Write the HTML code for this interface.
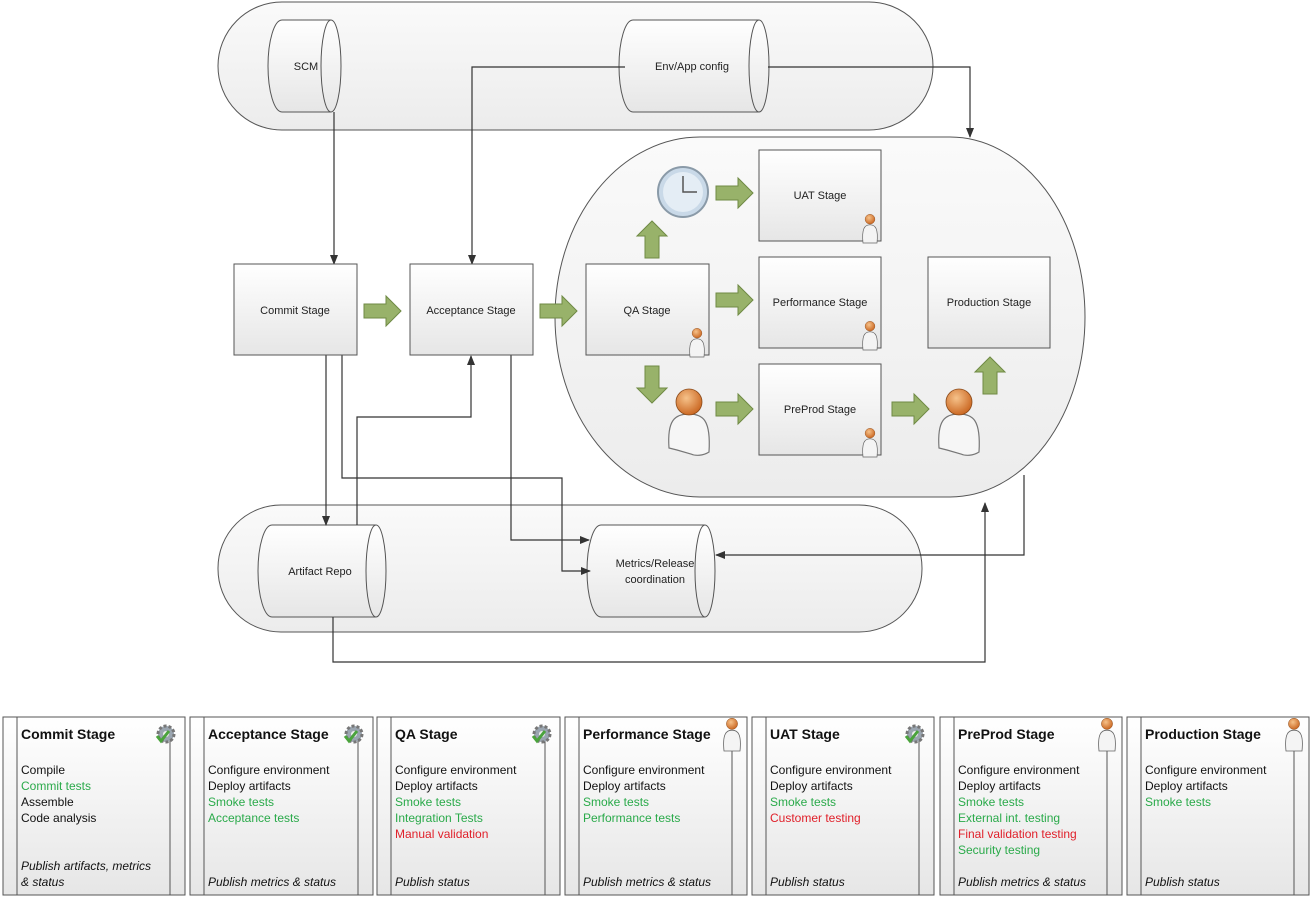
<!DOCTYPE html>
<html><head><meta charset="utf-8"><style>
html,body{margin:0;padding:0;background:#fff}
svg{display:block}
text{font-family:"Liberation Sans",sans-serif}
</style></head><body>
<svg width="1315" height="900" viewBox="0 0 1315 900" xmlns="http://www.w3.org/2000/svg">
<defs>
<linearGradient id="bg" x1="0" y1="0" x2="0" y2="1"><stop offset="0" stop-color="#ffffff"/><stop offset="1" stop-color="#e6e6e6"/></linearGradient>
<linearGradient id="pg" x1="0" y1="0" x2="0" y2="1"><stop offset="0" stop-color="#fafafa"/><stop offset="1" stop-color="#ececec"/></linearGradient>
<radialGradient id="head" cx="0.4" cy="0.35" r="0.7"><stop offset="0" stop-color="#f6c28a"/><stop offset="1" stop-color="#c8621c"/></radialGradient>
<marker id="ar" markerWidth="10" markerHeight="10" refX="9" refY="5" orient="auto" markerUnits="userSpaceOnUse"><path d="M0,1 L10,5 L0,9 z" fill="#333"/></marker>
<polygon id="ga" points="0,-7 22,-7 22,-15 37,0 22,15 22,7 0,7" fill="#98b26a" stroke="#6f8a44" stroke-width="1"/>
<g id="per"><path d="M-10,30 C-12,10 -8,4 0,4 C8,4 12,10 10,30 Z" fill="#f4f4f4" stroke="#666" stroke-width="1"/><circle cx="0" cy="-4" r="7" fill="url(#head)" stroke="#8a4a1a" stroke-width="0.6"/></g>
<g id="bper"><path d="M-20,28 C-22,0 -14,-6 0,-6 C14,-6 22,0 20,32 C14,36 6,36 2,34 L-12,30 Z" fill="#f6f6f6" stroke="#777" stroke-width="1.2"/><circle cx="0" cy="-18" r="13" fill="url(#head)" stroke="#8a4a1a" stroke-width="0.8"/></g>
<g id="gear"><circle cx="0" cy="0" r="8" fill="#9aa5b0" stroke="#777" stroke-width="3" stroke-dasharray="3 2"/><circle cx="0" cy="0" r="3" fill="#eee"/><path d="M-9,2 L-5,7 L3,-3" stroke="#4aa33c" stroke-width="3" fill="none"/></g>
</defs>

<rect x="218" y="2" width="715" height="128" rx="64" fill="url(#pg)" stroke="#555"/>
<rect x="218" y="505" width="704" height="127" rx="63" fill="url(#pg)" stroke="#555"/>
<path d="M700,137 L950,137 A135,180 0 0 1 1085,317 A135,180 0 0 1 950,497 L700,497 A145,180 0 0 1 555,317 A145,180 0 0 1 700,137 Z" fill="url(#pg)" stroke="#555"/>

<g fill="url(#bg)" stroke="#555">
<path d="M282,20 L331,20 A10,46 0 0 1 331,112 L282,112 A14,46 0 0 1 282,20 Z"/><path d="M331,20 A10,46 0 0 0 331,112" fill="none"/>
<path d="M633,20 L759,20 A10,46 0 0 1 759,112 L633,112 A14,46 0 0 1 633,20 Z"/><path d="M759,20 A10,46 0 0 0 759,112" fill="none"/>
<path d="M272,525 L376,525 A10,46 0 0 1 376,617 L272,617 A14,46 0 0 1 272,525 Z"/><path d="M376,525 A10,46 0 0 0 376,617" fill="none"/>
<path d="M601,525 L705,525 A10,46 0 0 1 705,617 L601,617 A14,46 0 0 1 601,525 Z"/><path d="M705,525 A10,46 0 0 0 705,617" fill="none"/>
</g>
<g font-size="11" fill="#222" text-anchor="middle">
<text x="306" y="70">SCM</text><text x="692" y="70">Env/App config</text>
<text x="320" y="575">Artifact Repo</text><text x="655" y="567">Metrics/Release</text><text x="655" y="583">coordination</text>
</g>

<g stroke="#333" stroke-width="1.2" fill="none">
<path d="M334,112 V264" marker-end="url(#ar)"/>
<path d="M625,67 H472 V264" marker-end="url(#ar)"/>
<path d="M768,67 H970 V137" marker-end="url(#ar)"/>
<path d="M326,355 V525" marker-end="url(#ar)"/>
<path d="M342,355 V478 H562 V571 H590" marker-end="url(#ar)"/>
<path d="M357,525 V417 H471 V356" marker-end="url(#ar)"/>
<path d="M511,355 V540 H589" marker-end="url(#ar)"/>
<path d="M1024,475 V555 H716" marker-end="url(#ar)"/>
<path d="M333,617 V662 H985 V503" marker-end="url(#ar)"/>
</g>

<g fill="url(#bg)" stroke="#555">
<rect x="234" y="264" width="123" height="91"/><rect x="410" y="264" width="123" height="91"/>
<rect x="586" y="264" width="123" height="91"/><rect x="759" y="150" width="122" height="91"/>
<rect x="759" y="257" width="122" height="91"/><rect x="759" y="364" width="122" height="91"/>
<rect x="928" y="257" width="122" height="91"/>
</g>
<g font-size="11" fill="#222" text-anchor="middle">
<text x="295" y="314">Commit Stage</text><text x="471" y="314">Acceptance Stage</text>
<text x="647" y="314">QA Stage</text><text x="820" y="199">UAT Stage</text>
<text x="820" y="306">Performance Stage</text><text x="820" y="413">PreProd Stage</text>
<text x="989" y="306">Production Stage</text>
</g>
<use href="#per" transform="translate(697,336) scale(0.7)"/>
<use href="#per" transform="translate(870,222) scale(0.7)"/>
<use href="#per" transform="translate(870,329) scale(0.7)"/>
<use href="#per" transform="translate(870,436) scale(0.7)"/>

<use href="#ga" transform="translate(364,311)"/>
<use href="#ga" transform="translate(540,311)"/>
<use href="#ga" transform="translate(716,300)"/>
<use href="#ga" transform="translate(716,193)"/>
<use href="#ga" transform="translate(716,409)"/>
<use href="#ga" transform="translate(892,409)"/>
<use href="#ga" transform="translate(652,258) rotate(-90)"/>
<use href="#ga" transform="translate(652,366) rotate(90)"/>
<use href="#ga" transform="translate(990,394) rotate(-90)"/>

<circle cx="683" cy="192" r="25" fill="#c9d9e8" stroke="#8a9aa8" stroke-width="2"/>
<circle cx="683" cy="192" r="20" fill="#e4edf5"/>
<path d="M683,176 V192 H697" stroke="#555" stroke-width="1.5" fill="none"/>
<use href="#bper" transform="translate(689,420)"/>
<use href="#bper" transform="translate(959,420)"/>

<g font-size="12" fill="#111">
<g transform="translate(3,717)">
<rect x="0" y="0" width="182" height="178" fill="url(#bg)" stroke="#555"/><path d="M14,0 V178 M167,20 V178" stroke="#555"/>
<text x="18" y="22" font-weight="bold" font-size="14">Commit Stage</text><use href="#gear" transform="translate(163,17)"/>
<text x="18" y="57">Compile</text><text x="18" y="73" fill="#2aaa4a">Commit tests</text><text x="18" y="89">Assemble</text><text x="18" y="105">Code analysis</text>
<text x="18" y="153" font-style="italic">Publish artifacts, metrics</text><text x="18" y="169" font-style="italic">&amp; status</text></g>
<g transform="translate(190,717)">
<rect x="0" y="0" width="183" height="178" fill="url(#bg)" stroke="#555"/><path d="M14,0 V178 M168,20 V178" stroke="#555"/>
<text x="18" y="22" font-weight="bold" font-size="14">Acceptance Stage</text><use href="#gear" transform="translate(164,17)"/>
<text x="18" y="57">Configure environment</text><text x="18" y="73">Deploy artifacts</text><text x="18" y="89" fill="#2aaa4a">Smoke tests</text><text x="18" y="105" fill="#2aaa4a">Acceptance tests</text>
<text x="18" y="169" font-style="italic">Publish metrics &amp; status</text></g>
<g transform="translate(377,717)">
<rect x="0" y="0" width="183" height="178" fill="url(#bg)" stroke="#555"/><path d="M14,0 V178 M168,20 V178" stroke="#555"/>
<text x="18" y="22" font-weight="bold" font-size="14">QA Stage</text><use href="#gear" transform="translate(165,17)"/>
<text x="18" y="57">Configure environment</text><text x="18" y="73">Deploy artifacts</text><text x="18" y="89" fill="#2aaa4a">Smoke tests</text><text x="18" y="105" fill="#2aaa4a">Integration Tests</text><text x="18" y="121" fill="#e0202a">Manual validation</text>
<text x="18" y="169" font-style="italic">Publish status</text></g>
<g transform="translate(565,717)">
<rect x="0" y="0" width="182" height="178" fill="url(#bg)" stroke="#555"/><path d="M14,0 V178 M167,20 V178" stroke="#555"/>
<text x="18" y="22" font-weight="bold" font-size="14">Performance Stage</text><use href="#per" transform="translate(167,10) scale(0.8)"/>
<text x="18" y="57">Configure environment</text><text x="18" y="73">Deploy artifacts</text><text x="18" y="89" fill="#2aaa4a">Smoke tests</text><text x="18" y="105" fill="#2aaa4a">Performance tests</text>
<text x="18" y="169" font-style="italic">Publish metrics &amp; status</text></g>
<g transform="translate(752,717)">
<rect x="0" y="0" width="182" height="178" fill="url(#bg)" stroke="#555"/><path d="M14,0 V178 M167,20 V178" stroke="#555"/>
<text x="18" y="22" font-weight="bold" font-size="14">UAT Stage</text><use href="#gear" transform="translate(163,17)"/>
<text x="18" y="57">Configure environment</text><text x="18" y="73">Deploy artifacts</text><text x="18" y="89" fill="#2aaa4a">Smoke tests</text><text x="18" y="105" fill="#e0202a">Customer testing</text>
<text x="18" y="169" font-style="italic">Publish status</text></g>
<g transform="translate(940,717)">
<rect x="0" y="0" width="182" height="178" fill="url(#bg)" stroke="#555"/><path d="M14,0 V178 M167,20 V178" stroke="#555"/>
<text x="18" y="22" font-weight="bold" font-size="14">PreProd Stage</text><use href="#per" transform="translate(167,10) scale(0.8)"/>
<text x="18" y="57">Configure environment</text><text x="18" y="73">Deploy artifacts</text><text x="18" y="89" fill="#2aaa4a">Smoke tests</text><text x="18" y="105" fill="#2aaa4a">External int. testing</text><text x="18" y="121" fill="#e0202a">Final validation testing</text><text x="18" y="137" fill="#2aaa4a">Security testing</text>
<text x="18" y="169" font-style="italic">Publish metrics &amp; status</text></g>
<g transform="translate(1127,717)">
<rect x="0" y="0" width="182" height="178" fill="url(#bg)" stroke="#555"/><path d="M14,0 V178 M167,20 V178" stroke="#555"/>
<text x="18" y="22" font-weight="bold" font-size="14">Production Stage</text><use href="#per" transform="translate(167,10) scale(0.8)"/>
<text x="18" y="57">Configure environment</text><text x="18" y="73">Deploy artifacts</text><text x="18" y="89" fill="#2aaa4a">Smoke tests</text>
<text x="18" y="169" font-style="italic">Publish status</text></g>
</g>
</svg>
</body></html>
